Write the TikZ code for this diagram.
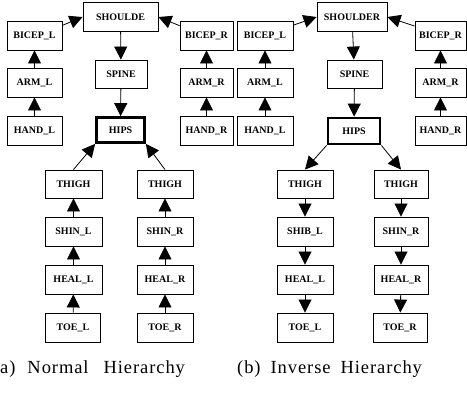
\documentclass[tikz,border=0pt]{standalone}
\usepackage{fontspec}
\setmainfont{Liberation Serif}
\newfontfamily\capfont[LetterSpace=5]{Liberation Serif}
\usetikzlibrary{arrows.meta}
\begin{document}
\begin{tikzpicture}[x=1pt,y=-1pt,
  bx/.style={draw, line width=0.9pt, minimum height=29pt, inner sep=0pt,
    font=\fontsize{10}{12}\selectfont\bfseries},
  hp/.style={bx, line width=2.8pt},
  ar/.style={line width=0.8pt, -{Triangle[length=13pt,width=13pt]}},
  captxt/.style={anchor=base west, inner sep=0pt, font=\fontsize{18.5}{20}\selectfont\capfont}]
\useasboundingbox (0,0) rectangle (467,392);
% ---------- (a) normal hierarchy ----------
\node[bx, minimum width=75pt] (aSh) at (120.5,17) {SHOULDE};
\node[bx, minimum width=55pt] (aBL) at (34.5,35.5) {BICEP\_L};
\node[bx, minimum width=55pt] (aAL) at (34.5,82.5) {ARM\_L};
\node[bx, minimum width=55pt] (aHL) at (34.5,131) {HAND\_L};
\node[bx, minimum width=52pt, minimum height=28pt] (aSp) at (121,74) {SPINE};
\node[hp, minimum width=48pt, minimum height=25pt] (aHi) at (120.5,130) {HIPS};
\node[bx, minimum width=53pt] (aBR) at (206.5,35.5) {BICEP\_R};
\node[bx, minimum width=53pt] (aAR) at (206.5,82.5) {ARM\_R};
\node[bx, minimum width=53pt] (aHR) at (206.5,131) {HAND\_R};
\node[bx, minimum width=57pt, minimum height=28pt] (aTL) at (73.5,184) {THIGH};
\node[bx, minimum width=56pt, minimum height=28pt] (aTR) at (165,184) {THIGH};
\node[bx, minimum width=57pt] (aSL) at (73.5,231.5) {SHIN\_L};
\node[bx, minimum width=56pt] (aSR) at (165,231.5) {SHIN\_R};
\node[bx, minimum width=57pt] (aEL) at (73.5,279.5) {HEAL\_L};
\node[bx, minimum width=56pt] (aER) at (165,279.5) {HEAL\_R};
\node[bx, minimum width=55pt] (aOL) at (73,327.5) {TOE\_L};
\node[bx, minimum width=56pt] (aOR) at (165,327.5) {TOE\_R};
\draw[ar] (aBL.20) -- (aSh.west);
\draw[ar] (aBR.160) -- (aSh.east);
\draw[ar] (aSh) -- (aSp);
\draw[ar] (aSp) -- (aHi);
\draw[ar] (aAL) -- (aBL);
\draw[ar] (aHL) -- (aAL);
\draw[ar] (aAR) -- (aBR);
\draw[ar] (aHR) -- (aAR);
\draw[ar] (aTL.north) -- (aHi.south west);
\draw[ar] (aTR.north) -- (aHi.south east);
\draw[ar] (aSL) -- (aTL);
\draw[ar] (aEL) -- (aSL);
\draw[ar] (aOL) -- (aEL);
\draw[ar] (aSR) -- (aTR);
\draw[ar] (aER) -- (aSR);
\draw[ar] (aOR) -- (aER);
% ---------- (b) inverse hierarchy ----------
\node[bx, minimum width=70pt] (bSh) at (352,17) {SHOULDER};
\node[bx, minimum width=56pt] (bBL) at (265,35.5) {BICEP\_L};
\node[bx, minimum width=56pt] (bAL) at (265,82.5) {ARM\_L};
\node[bx, minimum width=56pt] (bHL) at (265,131) {HAND\_L};
\node[bx, minimum width=55pt, minimum height=28pt] (bSp) at (354.5,74) {SPINE};
\node[hp, minimum width=52pt, minimum height=26pt] (bHi) at (354,131) {HIPS};
\node[bx, minimum width=51pt] (bBR) at (440.5,35.5) {BICEP\_R};
\node[bx, minimum width=51pt] (bAR) at (440.5,82.5) {ARM\_R};
\node[bx, minimum width=51pt] (bHR) at (440.5,131) {HAND\_R};
\node[bx, minimum width=56pt, minimum height=28pt] (bTL) at (305,184) {THIGH};
\node[bx, minimum width=54pt, minimum height=28pt] (bTR) at (401,184) {THIGH};
\node[bx, minimum width=56pt] (bSL) at (305,231.5) {SHIB\_L};
\node[bx, minimum width=54pt] (bSR) at (401,231.5) {SHIN\_R};
\node[bx, minimum width=56pt] (bEL) at (305,279.5) {HEAL\_L};
\node[bx, minimum width=54pt] (bER) at (401,279.5) {HEAL\_R};
\node[bx, minimum width=56pt] (bOL) at (305,327.5) {TOE\_L};
\node[bx, minimum width=54pt] (bOR) at (400,327.5) {TOE\_R};
\draw[ar] (bBL.20) -- (bSh.west);
\draw[ar] (bBR.160) -- (bSh.east);
\draw[ar] (bSh) -- (bSp);
\draw[ar] (bSp) -- (bHi);
\draw[ar] (bAL) -- (bBL);
\draw[ar] (bHL) -- (bAL);
\draw[ar] (bAR) -- (bBR);
\draw[ar] (bHR) -- (bAR);
\draw[ar] (bHi.south west) -- (bTL.north);
\draw[ar] (bHi.south east) -- (bTR.north);
\draw[ar] (bTL) -- (bSL);
\draw[ar] (bSL) -- (bEL);
\draw[ar] (bEL) -- (bOL);
\draw[ar] (bTR) -- (bSR);
\draw[ar] (bSR) -- (bER);
\draw[ar] (bER) -- (bOR);
% ---------- captions ----------
\node[captxt] (capA) at (0,373) {a)\hspace{12pt}Normal\hspace{15pt}Hierarchy};
\node[captxt] (capB) at (237,373) {(b)\hspace{10pt}Inverse\hspace{10pt}Hierarchy};
\end{tikzpicture}
\end{document}
